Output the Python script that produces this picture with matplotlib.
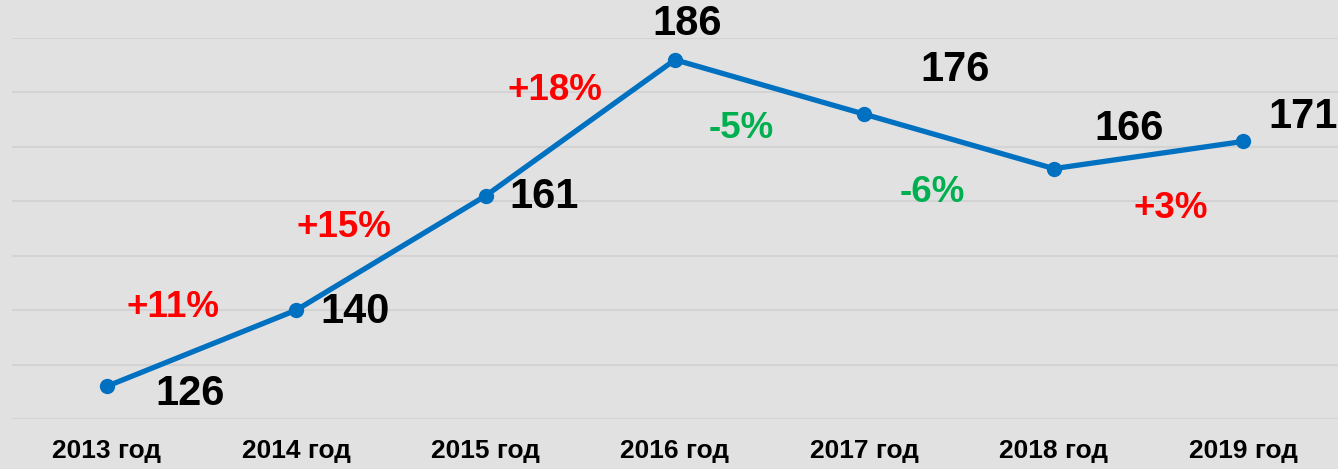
import matplotlib
matplotlib.use('Agg')
import matplotlib.pyplot as plt

plt.rcParams['font.family'] = ['Liberation Sans', 'DejaVu Sans']

years = ['2013 год', '2014 год', '2015 год', '2016 год', '2017 год', '2018 год', '2019 год']
values = [126, 140, 161, 186, 176, 166, 171]
changes = ['+11%', '+15%', '+18%', '-5%', '-6%', '+3%']

# label offsets in pixels (value labels from the point, change labels from segment midpoints)
value_offsets = [(83, -8), (59, -2), (58, -1), (12, 36), (91, 44), (75, 40), (60, 24)]
change_offsets = [(-28, 41), (-47, 25), (-25, 37), (-28, -42), (-27, -51), (22, -53)]

bg = '#e1e1e1'
fig = plt.figure(figsize=(13.38, 4.69), dpi=100, facecolor=bg)
ax = fig.add_axes([12 / 1338, 50 / 469, 1326 / 1338, 381 / 469])
ax.set_facecolor(bg)

x = list(range(len(years)))
ax.plot(x, values, color='#0070c0', lw=3.8, marker='o', ms=10, zorder=3)

ax.set_xlim(-0.5, len(years) - 0.5)
ax.set_ylim(120, 190)
ax.set_yticks(range(120, 191, 10))
ax.yaxis.grid(True, color='#d3d3d3', lw=1.5)
ax.set_axisbelow(True)
for s in ax.spines.values():
    s.set_visible(False)
ax.tick_params(left=False, labelleft=False, bottom=False, pad=11)
ax.set_xticks(x)
ax.set_xticklabels(years, fontsize=19, fontweight='bold')

for i, v in enumerate(values):
    ax.annotate(str(v), (i, v), xytext=value_offsets[i], textcoords='offset pixels',
                ha='center', va='center', fontsize=30, fontweight='bold', color='black')

for i, c in enumerate(changes):
    mx = i + 0.5
    my = (values[i] + values[i + 1]) / 2
    col = '#00b050' if c.startswith('-') else '#ff0000'
    ax.annotate(c, (mx, my), xytext=change_offsets[i], textcoords='offset pixels',
                ha='center', va='center', fontsize=26.5, fontweight='bold', color=col)

fig.savefig('out.png', dpi=100, facecolor=bg)
